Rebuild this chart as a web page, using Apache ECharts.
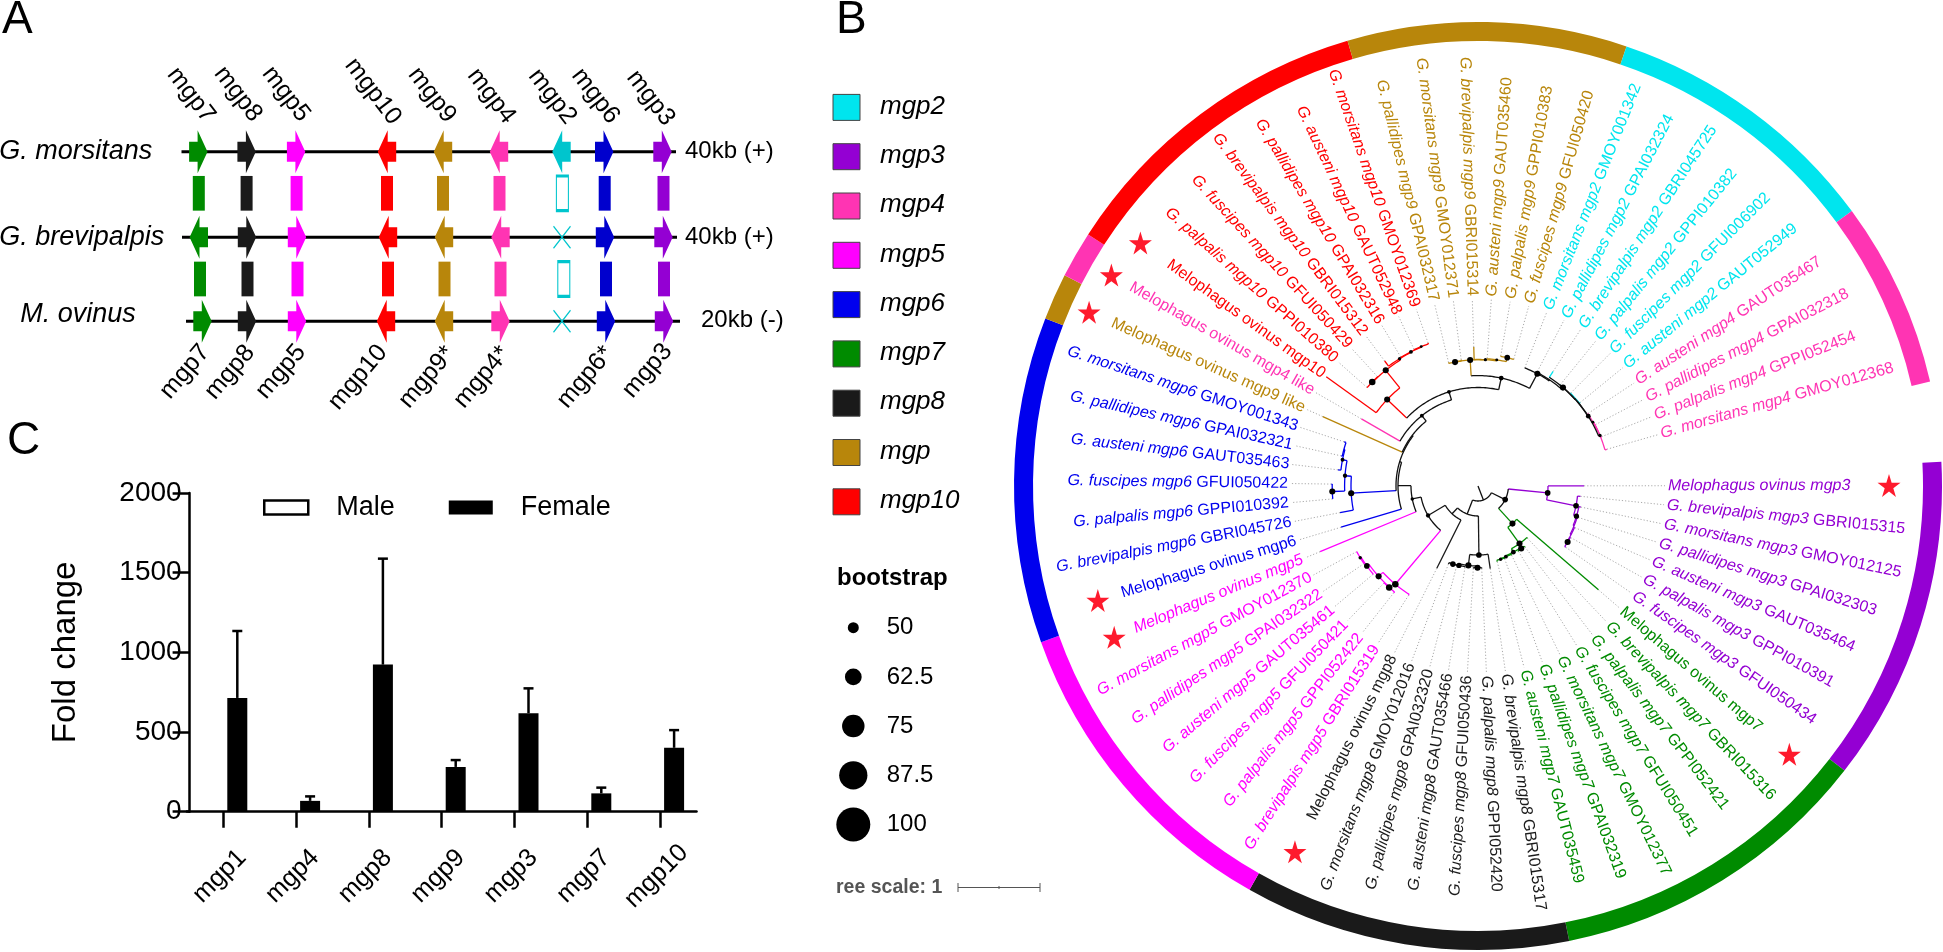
<!DOCTYPE html>
<html><head><meta charset="utf-8">
<script src="https://cdn.jsdelivr.net/npm/echarts@6/dist/echarts.min.js"></script>
<style>html,body{margin:0;padding:0;background:#fff}#c{width:1943px;height:952px}</style></head>
<body><div id="c"></div>
<script>
// ---------- colours per gene ----------
const COL={mgp2:'#00e5ee',mgp3:'#9400d3',mgp4:'#ff34b3',mgp5:'#ff00ff',mgp6:'#0000ee',mgp7:'#008b00',mgp8:'#1a1a1a',mgp9:'#b8860b',mgp10:'#ff0000'};
const FONT='"Liberation Sans",Arial,sans-serif';

// ---------- panel C data ----------
const foldGenes=['mgp1','mgp4','mgp8','mgp9','mgp3','mgp7','mgp10'];
const foldMale=[0,0,0,0,0,0,0];
const foldFemale=[714,68,923,281,618,115,401];
const foldUpper=[1134,96,1588,324,774,151,512];

// ---------- panel A data (gene order along the three scaffolds) ----------
const mapGenes=['mgp7','mgp8','mgp5','mgp10','mgp9','mgp4','mgp2','mgp6','mgp3'];
const species=['G. morsitans','G. brevipalpis','M. ovinus'];
const sizes=['40kb (+)','40kb (+)','20kb (-)'];
const row1Pos=[198.3,246.6,296.1,387,443,499,561.5,604.2,662.5];
const row2Pos=[198.8,247,297,388,444,500.5,562,605,663.5];
const row3Pos=[202.5,247,297,386,444,500.5,562,606,664];
const row1Dir=[1,1,1,-1,-1,-1,-1,1,1];
const row2Dir=[-1,1,1,-1,-1,-1,0,1,1];
const row3Dir=[1,1,1,-1,-1,1,0,1,1];
const link1Pos=[198.8,246.6,296.6,387,443,499.5,562.4,604.7,663.5];
const link2Pos=[200,247.5,297.5,388,444.5,500.5,563.8,606,664];
const topLabels=['mgp7','mgp8','mgp5','mgp10','mgp9','mgp4','mgp2','mgp6','mgp3'];
const botLabels=['mgp7','mgp8','mgp5','mgp10','mgp9*','mgp4*','mgp6*','mgp3'];

// ---------- panel B data ----------
const leaves=[
['mgp3','Melophagus ovinus mgp3',''],['mgp3','G. brevipalpis mgp3','GBRI015315'],['mgp3','G. morsitans mgp3','GMOY012125'],['mgp3','G. pallidipes mgp3','GPAI032303'],['mgp3','G. austeni mgp3','GAUT035464'],['mgp3','G. palpalis mgp3','GPPI010391'],['mgp3','G. fuscipes mgp3','GFUI050434'],
['mgp7','Melophagus ovinus mgp7','r'],['mgp7','G. brevipalpis mgp7','GBRI015316'],['mgp7','G. palpalis mgp7','GPPI052421'],['mgp7','G. fuscipes mgp7','GFUI050451'],['mgp7','G. morsitans mgp7','GMOY012377'],['mgp7','G. pallidipes mgp7','GPAI032319'],['mgp7','G. austeni mgp7','GAUT035459'],
['mgp8','G. brevipalpis mgp8','GBRI015317'],['mgp8','G. palpalis mgp8','GPPI052420'],['mgp8','G. fuscipes mgp8','GFUI050436'],['mgp8','G. austeni mgp8','GAUT035466'],['mgp8','G. pallidipes mgp8','GPAI032320'],['mgp8','G. morsitans mgp8','GMOY012016'],['mgp8','Melophagus ovinus mgp8','r'],
['mgp5','G. brevipalpis mgp5','GBRI015319'],['mgp5','G. palpalis mgp5','GPPI052422'],['mgp5','G. fuscipes mgp5','GFUI050421'],['mgp5','G. austeni mgp5','GAUT035461'],['mgp5','G. pallidipes mgp5','GPAI032322'],['mgp5','G. morsitans mgp5','GMOY012370'],['mgp5','Melophagus ovinus mgp5',''],
['mgp6','Melophagus ovinus mgp6','r'],['mgp6','G. brevipalpis mgp6','GBRI045726'],['mgp6','G. palpalis mgp6','GPPI010392'],['mgp6','G. fuscipes mgp6','GFUI050422'],['mgp6','G. austeni mgp6','GAUT035463'],['mgp6','G. pallidipes mgp6','GPAI032321'],['mgp6','G. morsitans mgp6','GMOY001343'],
['mgp9','Melophagus ovinus mgp9 like','r'],['mgp4','Melophagus ovinus mgp4 like','r'],
['mgp10','Melophagus ovinus mgp10','r'],['mgp10','G. palpalis mgp10','GPPI010380'],['mgp10','G. fuscipes mgp10','GFUI050429'],['mgp10','G. brevipalpis mgp10','GBRI015312'],['mgp10','G. pallidipes mgp10','GPAI032316'],['mgp10','G. austeni mgp10','GAUT052948'],['mgp10','G. morsitans mgp10','GMOY012369'],
['mgp9','G. pallidipes mgp9','GPAI032317'],['mgp9','G. morsitans mgp9','GMOY012371'],['mgp9','G. brevipalpis mgp9','GBRI015314'],['mgp9','G. austeni mgp9','GAUT035460'],['mgp9','G. palpalis mgp9','GPPI010383'],['mgp9','G. fuscipes mgp9','GFUI050420'],
['mgp2','G. morsitans mgp2','GMOY001342'],['mgp2','G. pallidipes mgp2','GPAI032324'],['mgp2','G. brevipalpis mgp2','GBRI045725'],['mgp2','G. palpalis mgp2','GPPI010382'],['mgp2','G. fuscipes mgp2','GFUI006902'],['mgp2','G. austeni mgp2','GAUT052949'],
['mgp4','G. austeni mgp4','GAUT035467'],['mgp4','G. pallidipes mgp4','GPAI032318'],['mgp4','G. palpalis mgp4','GPPI052454'],['mgp4','G. morsitans mgp4','GMOY012368']];
const ringGroups=['mgp3','mgp7','mgp8','mgp5','mgp6','mgp9','mgp4','mgp10','mgp9','mgp2','mgp4'];
const ringCounts=[7,7,7,7,7,1,1,7,6,6,4];
const starLeaves=[0,7,20,27,28,35,36,37];
const starRadii=[411,411,409,394,397,426,423,416];
const legendGenes=['mgp2','mgp3','mgp4','mgp5','mgp6','mgp7','mgp8','mgp','mgp10'];
const bootstrapTicks=[50,62.5,75,87.5,100];

// tree: L(leaf index, tip radius), N(node radius, bootstrap, children)
const L=(i,r)=>({i,r}), N=(r,b,...k)=>({r,b,k});
const cladePurple=N(70,85,L(0,106),N(100,85,L(1,103),N(103,80,L(2,105),N(104,0,L(3,105),N(105,0,L(4,105.5),N(105.7,90,L(5,106),L(6,107)))))));
const cladeGreen=N(51,90,L(7,159),N(71,90,L(8,72),N(75,75,N(76,90,L(9,77),L(10,77)),N(76,65,L(11,77),N(76.6,60,L(12,77.5),L(13,78))))));
const cladeBlack=N(69,85,L(14,83.5),N(80,90,N(81.7,90,L(15,82.5),L(16,82.5)),N(81.7,80,L(17,82.5),N(82,85,L(18,83),L(19,83.5)))));
const cladeMagenta=N(128.4,95,L(21,129.4),N(134.3,90,N(134.9,95,L(22,136),L(23,135.5)),N(136.9,85,L(24,137.5),N(137.9,60,L(25,138),L(26,138)))));
const cladeBlue=N(127,90,L(29,140.5),N(133.4,70,N(145.8,90,L(30,146),L(31,146.5)),N(138,65,L(32,141),N(139,0,L(33,140),L(34,141)))));
const cladeRed=N(125.4,90,L(37,187),N(148,90,N(148.3,95,L(38,148.5),L(39,148.7)),N(149.5,60,L(40,156),N(150,65,L(41,150.5),N(150.5,55,L(42,151),L(43,151.5))))));
const cladeGold=N(126.3,90,N(126,90,L(44,127),L(45,127.5)),N(126.5,58,L(46,139),N(127.5,55,L(47,128),N(131.6,85,L(48,132),L(49,132)))));
const cladePink=N(132,60,N(131.5,52,L(56,132),N(132,0,L(57,132.5),L(58,133))),L(59,134));
const cladeCyanPink=N(127,90,L(50,127),N(128,0,L(51,129),N(130,90,L(52,137),N(130.2,0,L(53,130.5),N(130.5,75,N(131,0,L(54,131.5),L(55,132)),cladePink)))));
const nodeUpper=N(98.5,65,cladeRed,N(110.4,75,cladeGold,cladeCyanPink));
const nodeLeft=N(80,0,L(28,143),N(82,0,cladeBlue,N(83,0,L(35,170),N(90,65,L(36,134.5),nodeUpper))));
const nodeMid=N(38,0,L(20,92),N(58,70,cladeMagenta,N(67,60,L(27,171),nodeLeft)));
const tree=N(15,0,N(30.4,85,cladePurple,cladeGreen),N(30,0,cladeBlack,nodeMid));

// ---------- derived ----------
const STEP=350/60, A0=0.08;
const leafAngle=i=>A0-STEP*i;
const segs=[],segCols=[],dots=[],leaders=[];
function walk(n,parentR){
 if(n.k===undefined){
  const a=leafAngle(n.i),c=COL[leaves[n.i][0]];
  segs.push([parentR,a,n.r,a]);segCols.push(c);
  if(n.r<186)leaders.push([n.r,a,187,a]);
  return {a,c};
 }
 const ks=n.k.map(x=>walk(x,n.r));
 const as=ks.map(x=>x.a), a=(as[0]+as[as.length-1])/2;
 const c=ks.every(x=>x.c===ks[0].c)?ks[0].c:'#111';
 segs.push([n.r,as[0],n.r,as[as.length-1]]);segCols.push(c);
 segs.push([parentR,a,n.r,a]);segCols.push(c);
 if(n.b)dots.push([n.r,a,n.b]);
 return {a,c};
}
walk(tree,0);

const CX=1478,CY=486,RO=464;
const norm=a=>((a%360)+360)%360;
const rad=d=>d*Math.PI/180;

function arrowSymbol(d){
 return d>0?'path://M0 11.5L8.5 11.5L8.5 0L18.4 21.5L8.5 43L8.5 31.5L0 31.5Z':'path://M18.4 11.5L9.9 11.5L9.9 0L0 21.5L9.9 43L9.9 31.5L18.4 31.5Z';
}
const mapCol=g=>g==='mgp2'?'#00c5cd':g==='mgp6'?'#0000cd':COL[g];
const rowsY=[151.7,237.3,321.3];
const rowsPos=[row1Pos,row2Pos,row3Pos],rowsDir=[row1Dir,row2Dir,row3Dir];
const rowsLine=[[181.5,676],[182,677],[186,680]];
const arrowData=[],crossData=[];
rowsPos.forEach((pos,r)=>pos.forEach((x,i)=>{
 const d=rowsDir[r][i];
 if(d===0)crossData.push([x,rowsY[r]]);
 else arrowData.push({value:[x,rowsY[r]],symbol:arrowSymbol(d),itemStyle:{color:mapCol(mapGenes[i]),opacity:1}});
}));
const linkData=[];
[[link1Pos,193.3],[link2Pos,279]].forEach(([pos,y])=>pos.forEach((x,i)=>{
 const g=mapGenes[i];
 linkData.push({value:[x,y],itemStyle:g==='mgp2'?{color:'#fff',borderColor:'#00c5cd',borderWidth:1.8,opacity:1}:{color:mapCol(g),opacity:1}});
}));

// ---------- overlay texts and legends ----------
const T=(text,x,y,o={})=>({type:'text',x,y,rotation:o.rot?rad(o.rot):0,z:20,silent:true,style:{text,x:0,y:0,fill:o.fill||'#000',font:`${o.italic?'italic ':''}${o.bold?'bold ':''}${o.size||24}px ${FONT}`,align:o.align||'left',verticalAlign:'middle'}});
const graphics=[
 T('A',2,20,{size:46}),T('B',836,20,{size:46}),T('C',7,441,{size:46}),
 T(species[0],75.8,151,{size:27,italic:true,align:'center'}),
 T(species[1],81.7,237,{size:27,italic:true,align:'center'}),
 T(species[2],78,314,{size:27,italic:true,align:'center'}),
 T(sizes[0],685,151,{size:24}),T(sizes[1],685,237,{size:24}),T(sizes[2],701,320,{size:24})
];
const topLX=[191,238,286,373,432,491.3,552.3,595.5,650.6],topLY=[95,94,94,91.5,95,96,96.5,96,98];
topLabels.forEach((t,i)=>graphics.push(T(t,topLX[i],topLY[i],{size:25,rot:-52.5,align:'center'})));
const botLX=[185,230,281,358,427,482,585.4,647.4],botLY=[371.7,372.3,371.7,377.3,377.3,377.3,377.3,370.7];
botLabels.forEach((t,i)=>graphics.push(T(t,botLX[i],botLY[i],{size:25,rot:49.7,align:'center'})));
legendGenes.forEach((g,i)=>{
 const y=107.4+i*49.3, k=g==='mgp'?'mgp9':g;
 graphics.push({type:'rect',silent:true,shape:{x:833,y:y-13,width:27,height:26},style:{fill:COL[k],stroke:'#444',lineWidth:1}});
 graphics.push(T(g,880,y-1,{size:26,italic:true}));
});
graphics.push(T('bootstrap',837,578,{size:24,bold:true}));
bootstrapTicks.forEach((b,i)=>{
 const y=627.7+i*49.2, d=11+(b-50)*0.46;
 graphics.push({type:'circle',silent:true,shape:{cx:853.3,cy:y,r:d/2},style:{fill:'#000'}});
 graphics.push(T(String(b),886.7,y,{size:24}));
});
graphics.push(T('ree scale: 1',836,887.5,{size:19.5,bold:true,fill:'#555'}));
[[958,887.5,1040,887.5],[958,883,958,892],[1040,883,1040,892],[999,886,999,889]].forEach(p=>graphics.push({type:'line',silent:true,shape:{x1:p[0],y1:p[1],x2:p[2],y2:p[3]},style:{stroke:'#555',lineWidth:1}}));

const starPath='path://M50 0L61 35H98L68 57L79 91L50 70L21 91L32 57L2 35H39Z';

function polarLine(params,api,dash,col,w){
 const r1=api.value(0),a1=api.value(1),r2=api.value(2),a2=api.value(3);
 const pts=[];
 const n=a1===a2?1:Math.max(2,Math.ceil(Math.abs(a2-a1)));
 for(let k=0;k<=n;k++){
  const t=k/n;
  const c=api.coord([r1+(r2-r1)*t,norm(a1+(a2-a1)*t)]);
  pts.push([c[0],c[1]]);
 }
 return {type:'polyline',shape:{points:pts},style:{fill:null,stroke:col,lineWidth:w,lineDash:dash}};
}

const option={
 animation:false,backgroundColor:'#fff',
 legend:{data:[{name:'Male',itemStyle:{color:'#fff',borderColor:'#000',borderWidth:2.5}},{name:'Female',itemStyle:{color:'#000'}}],left:258,top:489,itemWidth:44,itemHeight:14,itemGap:54,selectedMode:false,icon:'rect',textStyle:{fontSize:27,fontFamily:FONT,color:'#000',padding:[0,0,0,23]}},
 grid:[{left:186.9,top:493,width:509.6,height:318.7},{left:0,top:0,width:800,height:420}],
 xAxis:[
  {gridIndex:0,type:'category',data:foldGenes,axisLine:{lineStyle:{color:'#000',width:2.5}},axisTick:{show:true,alignWithLabel:true,length:16,lineStyle:{color:'#000',width:2.5}},
   axisLabel:{interval:0,rotate:45,align:'center',verticalAlign:'middle',margin:61,padding:[0,10,0,0],fontSize:25.5,color:'#000',fontFamily:FONT}},
  {gridIndex:1,type:'value',min:0,max:800,show:false}],
 yAxis:[
  {gridIndex:0,type:'value',min:0,max:2000,interval:500,offset:-2.7,name:'Fold change',nameLocation:'middle',nameGap:107,nameRotate:90,nameTextStyle:{fontSize:33,color:'#000',fontFamily:FONT},
   axisLine:{show:true,lineStyle:{color:'#000',width:2.5}},axisTick:{show:true,length:17,lineStyle:{color:'#000',width:2.5}},splitLine:{show:false},axisLabel:{fontSize:28,color:'#000',margin:8,fontFamily:FONT,formatter:v=>String(v)}},
  {gridIndex:1,type:'value',min:0,max:420,inverse:true,show:false}],
 polar:{center:[CX,CY],radius:RO},
 angleAxis:{type:'value',min:0,max:360,startAngle:0,clockwise:false,show:false,axisLine:{show:false},splitLine:{show:false}},
 radiusAxis:{type:'value',min:0,max:RO,show:false,axisLine:{show:false},splitLine:{show:false}},
 graphic:{elements:graphics},
 series:[
  {name:'Male',type:'bar',xAxisIndex:0,yAxisIndex:0,data:foldMale,barWidth:20,barGap:'40%',itemStyle:{color:'#fff',borderColor:'#000',borderWidth:0}},
  {name:'Female',type:'bar',xAxisIndex:0,yAxisIndex:0,data:foldFemale,barWidth:20,barGap:'40%',itemStyle:{color:'#000'}},
  {type:'custom',name:'err',xAxisIndex:0,yAxisIndex:0,data:foldGenes.map((g,i)=>[i,foldFemale[i],foldUpper[i]]),encode:{x:0,y:[1,2]},z:5,
   renderItem(p,api){
    const a=api.coord([api.value(0),api.value(1)]),b=api.coord([api.value(0),api.value(2)]);
    const x=a[0]+14, st={stroke:'#000',lineWidth:2.5};
    return {type:'group',children:[
     {type:'line',shape:{x1:x,y1:a[1],x2:x,y2:b[1]},style:st},
     {type:'line',shape:{x1:x-5,y1:b[1],x2:x+5,y2:b[1]},style:st}]};
   }},
  // panel A
  ...rowsY.map((y,i)=>({type:'line',xAxisIndex:1,yAxisIndex:1,data:[[rowsLine[i][0],y],[rowsLine[i][1],y]],symbol:'none',lineStyle:{color:'#000',width:3},z:2})),
  {type:'scatter',xAxisIndex:1,yAxisIndex:1,data:arrowData,symbolSize:[18.4,43],z:4},
  {type:'scatter',xAxisIndex:1,yAxisIndex:1,data:linkData,symbol:'rect',symbolSize:[12,34.7],z:4},
  {type:'scatter',xAxisIndex:1,yAxisIndex:1,data:crossData,symbol:'path://M0 0L17 22M17 0L0 22',symbolSize:[17,22],itemStyle:{color:'none',borderColor:'#00c5cd',borderWidth:1.4,opacity:1},z:4},
  // panel B
  {type:'pie',center:[CX,CY],radius:[445,RO],startAngle:3,clockwise:true,silent:true,label:{show:false},labelLine:{show:false},avoidLabelOverlap:false,
   data:ringGroups.map((g,i)=>({value:ringCounts[i],itemStyle:{color:COL[g]}})).concat([{value:10/STEP,itemStyle:{color:'rgba(0,0,0,0)'}}])},
  {type:'custom',coordinateSystem:'polar',data:leaders,encode:{radius:0,angle:1},z:2,silent:true,
   renderItem(p,api){return polarLine(p,api,[1.2,2],'#aaaaaa',1);}},
  {type:'custom',coordinateSystem:'polar',data:segs,encode:{radius:0,angle:1},z:3,silent:true,
   renderItem(p,api){return polarLine(p,api,null,segCols[p.dataIndex],1.3);}},
  {type:'scatter',coordinateSystem:'polar',data:dots.map(d=>[d[0],norm(d[1]),d[2]]),symbolSize:v=>2.5+(v[2]-50)*0.09,itemStyle:{color:'#000',opacity:1},z:5,silent:true},
  {type:'scatter',coordinateSystem:'polar',data:starLeaves.map((l,i)=>[starRadii[i],norm(leafAngle(l))]),symbol:starPath,symbolSize:23,itemStyle:{color:'#fe1a2d',opacity:1},z:5,silent:true},
  {type:'custom',coordinateSystem:'polar',data:leaves.map((l,i)=>[190,norm(leafAngle(i))]),encode:{radius:0,angle:1},z:6,silent:true,
   renderItem(p,api){
    const i=p.dataIndex,[g,name,id]=leaves[i],a=api.value(1),c=api.coord([190,a]);
    const right=Math.cos(rad(a))>=0;
    const col=COL[g],plain=id==='r';
    const txt=plain?`{r|${name}}`:(id?`{i|${name}} {r|${id}}`:`{i|${name}}`);
    const base={fontSize:16,fontFamily:FONT,fill:col};
    return {type:'text',x:c[0],y:c[1],rotation:rad(right?a:a-180),
     style:{text:txt,align:right?'left':'right',verticalAlign:'middle',fontSize:16,fontFamily:FONT,fill:col,
      rich:{i:{...base,fontStyle:'italic'},r:{...base}}}};
   }}
 ]
};
const chart=echarts.init(document.getElementById('c'));
chart.setOption(option);
</script></body></html>
